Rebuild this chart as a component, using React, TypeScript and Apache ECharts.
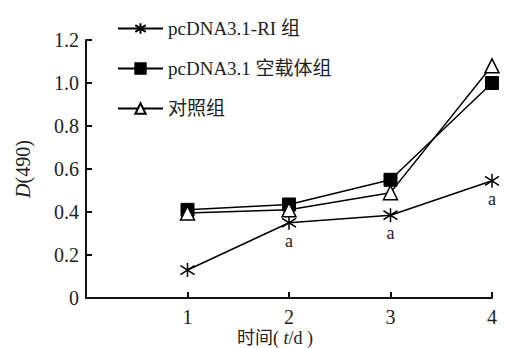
import React, { useEffect, useRef } from "react";
import * as echarts from "echarts";

const days = [1, 2, 3, 4];
const seriesNames = ["pcDNA3.1-RI 组", "pcDNA3.1 空载体组", "对照组"];
const riValues = [0.13, 0.35, 0.385, 0.545];
const vectorValues = [0.41, 0.435, 0.55, 1.0];
const controlValues = [0.395, 0.41, 0.49, 1.08];
const riSigLabels = ["", "a", "a", "a"];
const yTicks = [0, 0.2, 0.4, 0.6, 0.8, 1.0, 1.2];

const FONT = "Liberation Serif, Times New Roman, Noto Sans CJK SC, serif";
const ASTERISK = "path://M5 0L5 10M1.2 1.8L8.8 8.2M1.2 8.2L8.8 1.8";

export default function App() {
  const ref = useRef<HTMLDivElement>(null);
  useEffect(() => {
    document.body.style.margin = "0";
    if (!ref.current) return;
    const chart = echarts.init(ref.current, undefined, { renderer: "svg" });
    const pts = (vals: number[]) => days.map((d, i) => [d, vals[i]]);
    chart.setOption({
      animation: false,
      backgroundColor: "#fff",
      textStyle: { fontFamily: FONT, color: "#222" },
      grid: { left: 86, right: 14, top: 40, bottom: 50, containLabel: false, outerBoundsMode: "none" },
      legend: {
        orient: "vertical",
        left: 112,
        top: 14,
        itemWidth: 45,
        itemHeight: 13,
        itemGap: 21,
        data: seriesNames,
        textStyle: { fontFamily: FONT, fontSize: 19, color: "#222" },
      },
      xAxis: {
        type: "value",
        min: 0,
        max: 4,
        interval: 1,
        name: "时间( {i|t}/d )",
        nameLocation: "middle",
        nameGap: 30,
        nameMoveOverlap: false,
        nameTextStyle: {
          fontFamily: FONT,
          fontSize: 18,
          lineHeight: 20,
          color: "#222",
          padding: [0, 28, 0, 0],
          rich: { i: { fontStyle: "italic", fontFamily: FONT, fontSize: 18, lineHeight: 20, color: "#222" } },
        },
        axisLine: { lineStyle: { color: "#111", width: 2 } },
        axisTick: { inside: true, length: 6, lineStyle: { color: "#111", width: 2 } },
        axisLabel: {
          fontFamily: FONT,
          fontSize: 20,
          color: "#222",
          margin: 9,
          formatter: (v: number) => (v === 0 ? "" : String(v)),
        },
        splitLine: { show: false },
      },
      yAxis: {
        type: "value",
        min: 0,
        max: 1.2,
        interval: 0.2,
        name: "{i|D}(490)",
        nameLocation: "middle",
        nameGap: 53,
        nameRotate: 90,
        nameMoveOverlap: false,
        nameTextStyle: {
          fontFamily: FONT,
          fontSize: 20,
          color: "#222",
          rich: { i: { fontStyle: "italic", fontFamily: FONT, fontSize: 20, color: "#222" } },
        },
        axisLine: { show: true, lineStyle: { color: "#111", width: 2 } },
        axisTick: { show: true, inside: true, length: 6, lineStyle: { color: "#111", width: 2 } },
        axisLabel: {
          fontFamily: FONT,
          fontSize: 20,
          color: "#222",
          margin: 7,
          formatter: (v: number) => {
            const t = yTicks.find((y) => Math.abs(y - v) < 1e-9);
            return t === 0 ? "0" : v.toFixed(1);
          },
        },
        splitLine: { show: false },
      },
      series: [
        {
          name: seriesNames[0],
          type: "line",
          clip: false,
          symbol: ASTERISK,
          symbolSize: 14,
          lineStyle: { color: "#000", width: 1.5 },
          itemStyle: { color: "#000", borderColor: "#000", borderWidth: 1.5 },
          data: pts(riValues).map((p, i) => ({
            value: p,
            label: {
              show: riSigLabels[i] !== "",
              position: "bottom",
              distance: 1,
              formatter: riSigLabels[i],
              fontFamily: FONT,
              fontSize: 18,
              color: "#222",
            },
          })),
        },
        {
          name: seriesNames[1],
          type: "line",
          clip: false,
          symbol: "rect",
          symbolSize: 13,
          lineStyle: { color: "#000", width: 1.5 },
          itemStyle: { color: "#000", borderColor: "#000", borderWidth: 1 },
          data: pts(vectorValues),
        },
        {
          name: seriesNames[2],
          type: "line",
          clip: false,
          symbol: "triangle",
          symbolSize: 14,
          lineStyle: { color: "#000", width: 1.5 },
          itemStyle: { color: "#fff", borderColor: "#000", borderWidth: 1.5 },
          data: pts(controlValues),
        },
      ],
    });
    return () => chart.dispose();
  }, []);
  return <div ref={ref} style={{ width: 506, height: 348 }} />;
}
